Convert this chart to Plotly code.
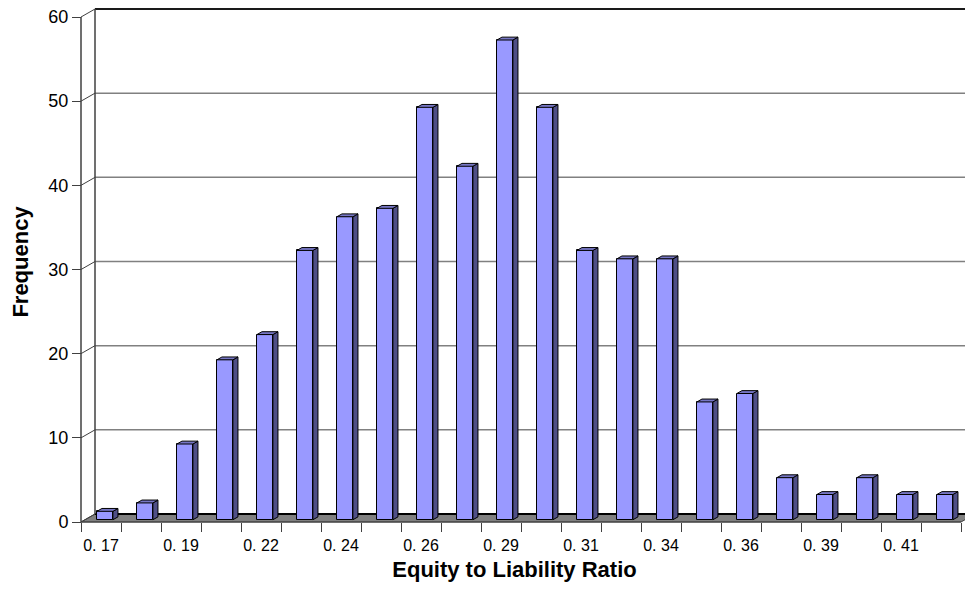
import plotly.graph_objects as go

# ---- data -------------------------------------------------------------
bin_labels = ["0. 17", "0. 18", "0. 19", "0. 21", "0. 22", "0. 23", "0. 24", "0. 25",
              "0. 26", "0. 28", "0. 29", "0. 30", "0. 31", "0. 32", "0. 34", "0. 35",
              "0. 36", "0. 37", "0. 39", "0. 40", "0. 41", "0. 42"]
frequency = [1, 2, 9, 19, 22, 32, 36, 37, 49, 42, 57, 49, 32, 31, 31, 14, 15, 5, 3, 5, 3, 3]
y_ticks = [0, 10, 20, 30, 40, 50, 60]

# ---- layout geometry (pixels) ------------------------------------------
W, H = 965, 590
L, R, T, B = 64, 0, 0, 66
cat_px = 40.0                  # width of one category slot
front_left_px = 81             # x pixel of the front value axis
front_floor_px = 522           # y pixel of the front floor edge
unit_px = (522 - 17) / 60.0    # pixels per frequency unit
plot_w = W - L - R
plot_h = H - T - B

xmin = -0.5 - (front_left_px - L) / cat_px
xmax = xmin + plot_w / cat_px
ymin = -((T + plot_h) - front_floor_px) / unit_px
ymax = ymin + plot_h / unit_px

# pseudo-3D depth of the chart box, in data units
depth_dx = 14 / cat_px
depth_dy = 8 / unit_px
f_front, f_back = 0.28, 0.64   # depth fractions of the column faces
bar_w = 0.4

n = len(frequency)
xs = list(range(n))

fig = go.Figure()

# front faces of the columns
base = f_front * depth_dy
fig.add_trace(go.Bar(
    x=[i + f_front * depth_dx for i in xs],
    y=frequency,
    base=[base] * n,
    width=bar_w,
    marker=dict(color="#9999FF", line=dict(color="#000000", width=1)),
    hoverinfo="skip",
    showlegend=False,
))

# side and top faces
ddx = (f_back - f_front) * depth_dx
ddy = (f_back - f_front) * depth_dy
side_x, side_y, top_x, top_y = [], [], [], []
for i, v in zip(xs, frequency):
    cx = i + f_front * depth_dx
    xl, xr = cx - bar_w / 2, cx + bar_w / 2
    yb, yt = base, base + v
    side_x += [xr, xr + ddx, xr + ddx, xr, xr, None]
    side_y += [yb, yb + ddy, yt + ddy, yt, yb, None]
    top_x += [xl, xr, xr + ddx, xl + ddx, xl, None]
    top_y += [yt, yt, yt + ddy, yt + ddy, yt, None]

fig.add_trace(go.Scatter(x=side_x, y=side_y, mode="lines", fill="toself",
                         fillcolor="#4F4F86", line=dict(color="#000000", width=1),
                         hoverinfo="skip", showlegend=False))
fig.add_trace(go.Scatter(x=top_x, y=top_y, mode="lines", fill="toself",
                         fillcolor="#7676C4", line=dict(color="#000000", width=1),
                         hoverinfo="skip", showlegend=False))

# ---- walls, floor and gridlines ---------------------------------------
shapes = []
bx = -0.5 + depth_dx
floor_right = n - 0.5
shapes.append(dict(
    type="path", xref="x", yref="y", layer="below",
    path=f"M {-0.5} 0 L {floor_right} 0 L {floor_right + depth_dx} {depth_dy} "
         f"L {bx} {depth_dy} Z",
    fillcolor="#808080", line=dict(color="#404040", width=1),
))
for v in y_ticks:
    if v == 0:
        col, wd = "#000000", 2.2
    elif v == y_ticks[-1]:
        col, wd = "#1a1a1a", 2
    else:
        col, wd = "#808080", 1.5
    shapes.append(dict(type="line", xref="x", yref="y", layer="below",
                       x0=bx, x1=xmax, y0=v + depth_dy, y1=v + depth_dy,
                       line=dict(color=col, width=wd)))
    shapes.append(dict(type="line", xref="x", yref="y", layer="below",
                       x0=-0.5, x1=bx, y0=v, y1=v + depth_dy,
                       line=dict(color="#404040", width=1)))
shapes.append(dict(type="line", xref="x", yref="y", layer="below",
                   x0=bx, x1=bx, y0=depth_dy, y1=y_ticks[-1] + depth_dy,
                   line=dict(color="#404040", width=1.5)))
shapes.append(dict(type="line", xref="x", yref="y", layer="below",
                   x0=-0.5, x1=-0.5, y0=0, y1=y_ticks[-1],
                   line=dict(color="#404040", width=1.5)))
shapes.append(dict(type="line", xref="x", yref="y", layer="below",
                   x0=-0.5, x1=floor_right, y0=0, y1=0,
                   line=dict(color="#404040", width=1.2)))

font_family = "Liberation Sans, Arial, sans-serif"

fig.update_layout(
    width=W, height=H,
    margin=dict(l=L, r=R, t=T, b=B, pad=0),
    paper_bgcolor="#FFFFFF", plot_bgcolor="#FFFFFF",
    font=dict(family=font_family, size=16, color="#000000"),
    shapes=shapes,
    showlegend=False,
    xaxis=dict(
        range=[xmin, xmax],
        anchor="free",
        position=(T + plot_h - front_floor_px) / plot_h,
        tickmode="array",
        tickvals=[i for i in xs if i % 2 == 0],
        ticktext=[bin_labels[i] for i in xs if i % 2 == 0],
        ticks="",
        showline=False, showgrid=False, zeroline=False,
        tickfont=dict(size=16),
        ticklabelstandoff=12,
        minor=dict(tickmode="array", tickvals=[i - 0.5 for i in range(n + 1)],
                   ticks="outside", ticklen=9, tickwidth=1.2, tickcolor="#404040",
                   showgrid=False),
        title=dict(text="Equity to Liability Ratio",
                   font=dict(size=22, weight="bold"), standoff=8),
        fixedrange=True,
    ),
    yaxis=dict(
        range=[ymin, ymax],
        anchor="free",
        position=(front_left_px - L) / plot_w,
        tickmode="array",
        tickvals=y_ticks,
        ticks="outside", ticklen=9, tickwidth=1.2, tickcolor="#404040",
        showline=False, showgrid=False, zeroline=False,
        tickfont=dict(size=18),
        title=dict(text="Frequency", font=dict(size=22, weight="bold"), standoff=12),
        fixedrange=True,
    ),
    bargap=0,
)

fig.write_html("out.html")
